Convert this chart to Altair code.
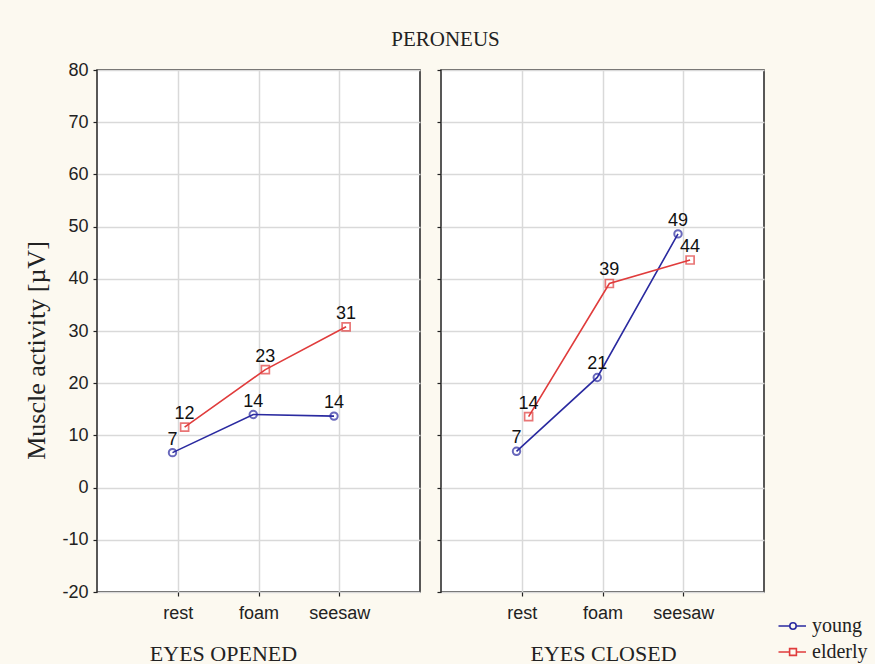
import altair as alt
import pandas as pd

# Peroneus muscle activity (µV) by balance condition, age group and eye state
conditions = ["rest", "foam", "seesaw"]
groups = ["young", "elderly"]
young_open = [6.7, 14.0, 13.7]
elderly_open = [11.6, 22.6, 30.8]
young_closed = [6.95, 21.1, 48.6]
elderly_closed = [13.6, 39.1, 43.6]
y_ticks = list(range(-20, 81, 10))

BLUE = "#2a2aa0"
RED = "#e03c3c"
SERIF = "Liberation Serif"
SANS = "Liberation Sans"

# small horizontal nudge so the two series do not overlap
nudge = {"young": -0.065, "elderly": 0.085}


def table(young, elderly):
    rows = []
    for g, vals in (("young", young), ("elderly", elderly)):
        for i, (c, v) in enumerate(zip(conditions, vals)):
            rows.append({"group": g, "condition": c, "pos": i + 1 + nudge[g], "value": v})
    return pd.DataFrame(rows)


color_scale = alt.Scale(domain=groups, range=[BLUE, RED])

# legend glyphs: a short line with the marker in the middle
circle_glyph = ("M-1.45,0H-0.32M0.32,0H1.3M-0.32,0A0.32,0.32,0,1,1,0.32,0"
                "A0.32,0.32,0,1,1,-0.32,0Z")
square_glyph = "M-1.45,0H-0.34M0.34,0H1.3M-0.34,-0.34H0.34V0.34H-0.34Z"

key_legend = alt.Legend(
    title=None,
    orient="none",
    legendX=341,
    legendY=545,
    symbolSize=400,
    symbolOpacity=1,
    symbolStrokeWidth=1.6,
    symbolType="circle",
    labelFont=SERIF,
    labelFontSize=20,
    labelColor="#222222",
    rowPadding=5,
    labelOffset=8,
)


def panel(df, xtitle, title_x, first):
    x = alt.X(
        "pos:Q",
        scale=alt.Scale(domain=[0, 4], nice=False, zero=False),
        axis=alt.Axis(
            values=[1, 2, 3],
            labelExpr="['', 'rest', 'foam', 'seesaw'][datum.value]",
            title=xtitle,
            titleX=title_x,
            titleY=68,
            titleBaseline="alphabetic",
        ),
    )
    if first:
        y_axis = alt.Axis(
            values=y_ticks,
            labelExpr="datum.value + ''",
            title="Muscle activity [µV]",
            titleFontSize=26,
            titleX=-53,
            titleY=280,
            titleBaseline="alphabetic",
        )
    else:
        y_axis = alt.Axis(values=y_ticks, labels=False, title=None)
    y = alt.Y("value:Q", scale=alt.Scale(domain=[-20, 80], nice=False, zero=False), axis=y_axis)
    legend = None if first else key_legend
    color = alt.Color("group:N", scale=color_scale, legend=legend)
    base = alt.Chart(df)
    line = base.mark_line(strokeWidth=1.6).encode(x=x, y=y, color=color)
    young_pts = base.transform_filter(alt.datum.group == "young").mark_point(
        shape="circle", filled=False, size=55, strokeWidth=2
    ).encode(x=x, y=y, color=color)
    elderly_pts = base.transform_filter(alt.datum.group == "elderly").mark_point(
        shape="square", filled=False, size=64, strokeWidth=1.7
    ).encode(x=x, y=y, color=color)
    labels = base.mark_text(
        dy=-13, font=SANS, fontSize=18, color="#111111"
    ).encode(x=x, y=y, text=alt.Text("value:Q", format=".0f"))
    layers = [line, young_pts, elderly_pts, labels]
    if not first:
        key = base.mark_point(opacity=0, filled=False).encode(
            x=x,
            y=y,
            shape=alt.Shape(
                "group:N",
                scale=alt.Scale(domain=groups, range=[circle_glyph, square_glyph]),
                legend=key_legend,
            ),
            color=color,
        )
        layers.append(key)
    return alt.layer(*layers).properties(width=323, height=522)


left = panel(table(young_open, elderly_open), "EYES OPENED", 126, True)
right = panel(table(young_closed, elderly_closed), "EYES CLOSED", 162, False)

chart = (
    alt.hconcat(left, right, spacing=14)
    .resolve_scale(shape="independent", color="independent")
    .properties(
        title=alt.TitleParams("PERONEUS", font=SERIF, fontSize=21, fontWeight="normal",
                              color="#222222", anchor="middle", frame="bounds", offset=10),
        background="#fcf9f0",
        padding={"left": 22, "top": 29, "right": 6, "bottom": 0},
    )
    .configure_view(stroke="#222222", strokeWidth=1.5, fill="white")
    .configure_axis(
        domain=False,
        grid=True,
        gridColor="#d9d9d9",
        gridWidth=1.5,
        tickColor="#222222",
        tickSize=4,
        tickWidth=1.2,
        labelFont=SANS,
        labelFontSize=18,
        labelColor="#222222",
        labelPadding=5,
        titleFont=SERIF,
        titleFontSize=22,
        titleFontWeight="normal",
        titleColor="#222222",
    )
    .configure_axisX(labelPadding=8)
)

chart.save("out.html", embed_options={"renderer": "svg", "actions": False})
